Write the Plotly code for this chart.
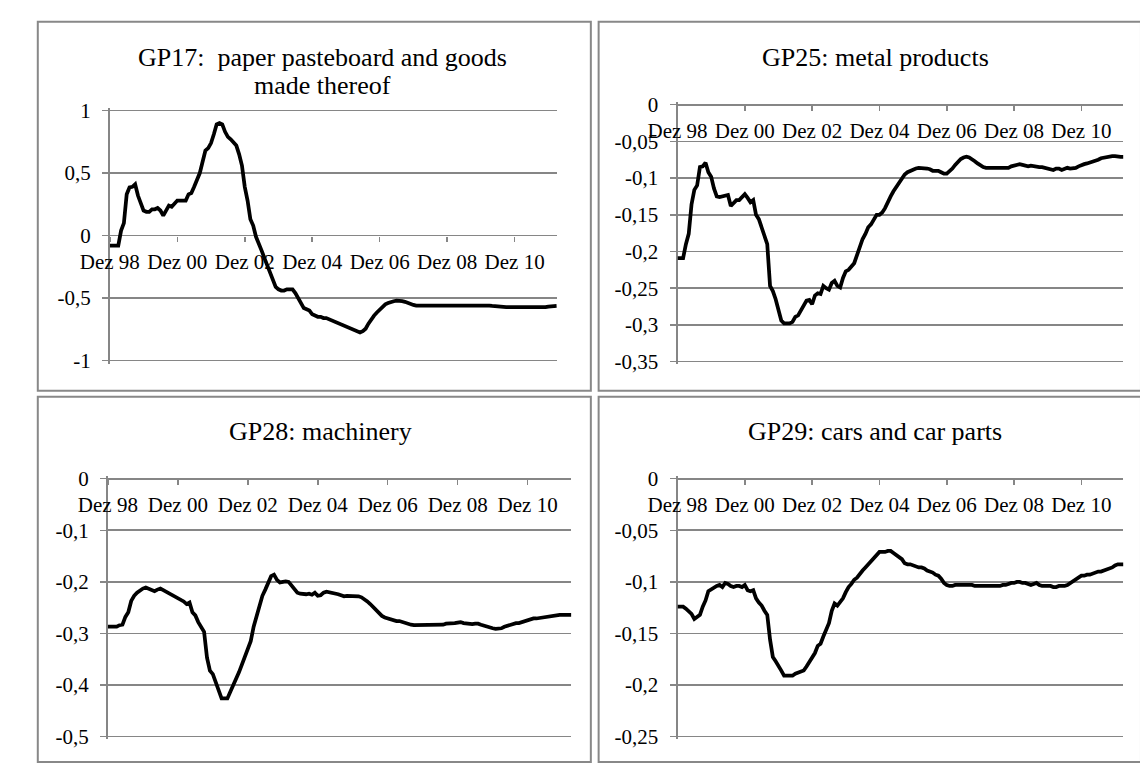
import plotly.graph_objects as go

W, H = 1140, 769

# ---------------- data ----------------
months = list(range(160))  # Dec 1998 ... Mar 2012
x_tick_vals = [0, 24, 48, 72, 96, 120, 144]
x_tick_text = ["Dez 98", "Dez 00", "Dez 02", "Dez 04", "Dez 06", "Dez 08", "Dez 10"]

gp17 = [
    -0.08, -0.08, -0.08, -0.08, 0.04, 0.10, 0.33, 0.385, 0.39, 0.41,
    0.32, 0.26, 0.20, 0.19, 0.19, 0.21, 0.21, 0.22, 0.20, 0.16,
    0.20, 0.24, 0.23, 0.25, 0.28, 0.28, 0.28, 0.28, 0.33, 0.34,
    0.39, 0.44, 0.50, 0.59, 0.68, 0.70, 0.74, 0.81, 0.89, 0.90,
    0.89, 0.83, 0.79, 0.77, 0.74, 0.72, 0.65, 0.56, 0.39, 0.28,
    0.13, 0.08, -0.01, -0.06, -0.12, -0.18, -0.24, -0.29, -0.36, -0.41,
    -0.43, -0.44, -0.44, -0.43, -0.43, -0.43, -0.46, -0.50, -0.53, -0.58,
    -0.59, -0.60, -0.63, -0.64, -0.65, -0.65, -0.66, -0.66, -0.67, -0.68,
    -0.69, -0.70, -0.71, -0.72, -0.73, -0.74, -0.75, -0.76, -0.77, -0.775,
    -0.765, -0.745, -0.705, -0.667, -0.64, -0.615, -0.59, -0.57, -0.55, -0.54,
    -0.53, -0.525, -0.52, -0.52, -0.525, -0.53, -0.54, -0.55, -0.555, -0.56,
    -0.56, -0.56, -0.56, -0.56, -0.56, -0.56, -0.56, -0.56, -0.56, -0.56,
    -0.558, -0.558, -0.558, -0.557, -0.557, -0.556, -0.556, -0.556, -0.555, -0.555,
    -0.555, -0.555, -0.555, -0.556, -0.558, -0.56, -0.563, -0.566, -0.568, -0.57,
    -0.572, -0.573, -0.572, -0.572, -0.572, -0.572, -0.573, -0.574, -0.575, -0.575,
    -0.576, -0.577, -0.577, -0.577, -0.576, -0.573, -0.568, -0.564, -0.562, -0.562,
]

gp25 = [
    -0.209, -0.209, -0.209, -0.19, -0.176, -0.136, -0.116, -0.11, -0.085, -0.084,
    -0.079, -0.092, -0.098, -0.114, -0.125, -0.126, -0.125, -0.123, -0.123, -0.138,
    -0.134, -0.13, -0.13, -0.125, -0.122, -0.127, -0.133, -0.13, -0.15, -0.156,
    -0.167, -0.176, -0.19, -0.247, -0.254, -0.265, -0.28, -0.294, -0.298, -0.298,
    -0.298, -0.296, -0.289, -0.287, -0.28, -0.274, -0.267, -0.266, -0.272, -0.26,
    -0.257, -0.258, -0.247, -0.25, -0.252, -0.243, -0.24, -0.247, -0.249, -0.236,
    -0.227, -0.225, -0.22, -0.216, -0.205, -0.192, -0.183, -0.176, -0.167, -0.163,
    -0.156, -0.15, -0.15, -0.147, -0.141, -0.132, -0.125, -0.118, -0.112, -0.105,
    -0.1, -0.095, -0.092, -0.09, -0.088, -0.087, -0.086, -0.086, -0.087, -0.087,
    -0.088, -0.09, -0.09, -0.09, -0.092, -0.094, -0.094, -0.091, -0.087, -0.082,
    -0.078, -0.074, -0.072, -0.071, -0.072, -0.074, -0.077, -0.08, -0.083, -0.085,
    -0.086, -0.086, -0.086, -0.086, -0.086, -0.086, -0.086, -0.086, -0.086, -0.084,
    -0.083, -0.082, -0.081, -0.082, -0.083, -0.084, -0.083, -0.084, -0.084, -0.085,
    -0.085, -0.086, -0.087, -0.088, -0.089, -0.087, -0.087, -0.089, -0.087, -0.086,
    -0.087, -0.087, -0.086, -0.084, -0.082, -0.081, -0.08, -0.079, -0.077, -0.076,
    -0.075, -0.073, -0.072, -0.071, -0.07, -0.07, -0.07, -0.071, -0.071, -0.071,
]

gp28 = [
    -0.287, -0.287, -0.287, -0.287, -0.284, -0.283, -0.268, -0.259, -0.237, -0.227,
    -0.221, -0.216, -0.213, -0.211, -0.213, -0.215, -0.218, -0.215, -0.213, -0.216,
    -0.219, -0.221, -0.226, -0.228, -0.23, -0.235, -0.238, -0.243, -0.24, -0.259,
    -0.265, -0.278, -0.287, -0.297, -0.347, -0.372, -0.379, -0.394, -0.413, -0.426,
    -0.426, -0.426, -0.413, -0.4, -0.391, -0.375, -0.36, -0.344, -0.331, -0.315,
    -0.287, -0.268, -0.252, -0.227, -0.215, -0.202, -0.189, -0.186, -0.196, -0.201,
    -0.2, -0.199, -0.2, -0.207, -0.215, -0.221, -0.223, -0.224, -0.224, -0.223,
    -0.225, -0.221, -0.227, -0.226, -0.221, -0.219, -0.22, -0.221, -0.222, -0.224,
    -0.226, -0.228, -0.227, -0.227, -0.227, -0.227, -0.228, -0.23, -0.233, -0.238,
    -0.243, -0.249, -0.254, -0.259, -0.266, -0.269, -0.271, -0.273, -0.274, -0.276,
    -0.276, -0.278, -0.279, -0.281, -0.283, -0.284, -0.284, -0.284, -0.284, -0.284,
    -0.284, -0.284, -0.284, -0.284, -0.284, -0.283, -0.281, -0.281, -0.28, -0.28,
    -0.279, -0.278, -0.28, -0.281, -0.281, -0.282, -0.281, -0.281, -0.283, -0.285,
    -0.287, -0.288, -0.29, -0.291, -0.291, -0.29, -0.287, -0.285, -0.284, -0.281,
    -0.28, -0.28, -0.278, -0.276, -0.274, -0.273, -0.271, -0.271, -0.27, -0.269,
    -0.268, -0.267, -0.266, -0.265, -0.264, -0.264, -0.264, -0.264, -0.264, -0.264,
]

gp29 = [
    -0.124, -0.124, -0.124, -0.126, -0.129, -0.131, -0.136, -0.134, -0.132, -0.124,
    -0.118, -0.109, -0.107, -0.105, -0.104, -0.103, -0.105, -0.101, -0.102, -0.104,
    -0.105, -0.104, -0.104, -0.105, -0.103, -0.108, -0.109, -0.108, -0.116, -0.12,
    -0.123, -0.128, -0.132, -0.156, -0.173, -0.177, -0.181, -0.186, -0.191, -0.191,
    -0.191, -0.191, -0.189, -0.188, -0.187, -0.186, -0.182, -0.178, -0.174, -0.169,
    -0.162, -0.16, -0.153, -0.147, -0.14, -0.128, -0.121, -0.123, -0.12, -0.116,
    -0.11, -0.105, -0.102, -0.098, -0.096, -0.092, -0.089, -0.086, -0.083, -0.08,
    -0.078, -0.075, -0.071, -0.071, -0.071, -0.07, -0.07, -0.072, -0.074, -0.076,
    -0.078, -0.082, -0.083, -0.083, -0.084, -0.085, -0.086, -0.086, -0.087, -0.089,
    -0.09, -0.091, -0.093, -0.094, -0.097, -0.101, -0.103, -0.104, -0.104, -0.103,
    -0.103, -0.103, -0.103, -0.103, -0.103, -0.103, -0.104, -0.104, -0.104, -0.104,
    -0.104, -0.104, -0.104, -0.104, -0.104, -0.104, -0.103, -0.103, -0.102, -0.101,
    -0.101, -0.1, -0.1, -0.101, -0.101, -0.102, -0.103, -0.102, -0.101, -0.103,
    -0.104, -0.104, -0.104, -0.104, -0.105, -0.105, -0.104, -0.104, -0.104, -0.103,
    -0.101, -0.099, -0.098, -0.096, -0.094, -0.094, -0.093, -0.093, -0.092, -0.091,
    -0.09, -0.09, -0.089, -0.088, -0.087, -0.086, -0.084, -0.083, -0.083, -0.083,
]

titles = [
    ["GP17:\u00a0 paper pasteboard and goods", "made thereof"],
    ["GP25: metal products"],
    ["GP28: machinery"],
    ["GP29: cars and car parts"],
]

y_ticks_gp17 = [1, 0.5, 0, -0.5, -1]
y_text_gp17 = ["1", "0,5", "0", "-0,5", "-1"]
y_ticks_gp25 = [0, -0.05, -0.1, -0.15, -0.2, -0.25, -0.3, -0.35]
y_text_gp25 = ["0", "-0,05", "-0,1", "-0,15", "-0,2", "-0,25", "-0,3", "-0,35"]
y_ticks_gp28 = [0, -0.1, -0.2, -0.3, -0.4, -0.5]
y_text_gp28 = ["0", "-0,1", "-0,2", "-0,3", "-0,4", "-0,5"]
y_ticks_gp29 = [0, -0.05, -0.1, -0.15, -0.2, -0.25]
y_text_gp29 = ["0", "-0,05", "-0,1", "-0,15", "-0,2", "-0,25"]

# ---------------- layout geometry (pixels) ----------------
FONT = "Liberation Serif, Times New Roman, serif"
GRID = "#868686"
PAD = 3  # px of padding so that the outermost gridlines are drawn

panels = [
    dict(series=gp17, yt=y_ticks_gp17, ytx=y_text_gp17, rng=[-1, 1],
         plot=(82, 541, 104, 360), box=(8, 576, 13, 391), title_xy=(300, 50)),
    dict(series=gp25, yt=y_ticks_gp25, ytx=y_text_gp25, rng=[-0.35, 0],
         plot=(665, 1123, 98, 361), box=(584, 1141, 13, 391), title_xy=(868, 50)),
    dict(series=gp28, yt=y_ticks_gp28, ytx=y_text_gp28, rng=[-0.5, 0],
         plot=(80, 556, 481, 745), box=(8, 576, 397, 771), title_xy=(298, 433)),
    dict(series=gp29, yt=y_ticks_gp29, ytx=y_text_gp29, rng=[-0.25, 0],
         plot=(665, 1123, 481, 745), box=(584, 1141, 397, 771), title_xy=(868, 433)),
]


def fx(px):
    return px / W


def fy(py):
    return 1 - py / H


fig = go.Figure()
layout = dict(
    width=W, height=H, margin=dict(l=0, r=0, t=0, b=0),
    paper_bgcolor="white", plot_bgcolor="white", showlegend=False,
    font=dict(family=FONT, color="black"),
)
shapes = []
annotations = []

for i, p in enumerate(panels):
    k = "" if i == 0 else str(i + 1)
    x0, x1, yt_px, yb_px = p["plot"]
    r0, r1 = p["rng"]
    per_px = (r1 - r0) / (yb_px - yt_px)
    ydom = [fy(yb_px + PAD), fy(yt_px - PAD)]
    yrng = [r0 - PAD * per_px, r1 + PAD * per_px]
    zero_pos = ydom[0] + (0 - yrng[0]) / (yrng[1] - yrng[0]) * (ydom[1] - ydom[0])

    fig.add_trace(go.Scatter(
        x=months, y=p["series"], mode="lines",
        line=dict(color="black", width=3.75),
        xaxis="x" + k, yaxis="y" + k, hoverinfo="skip",
    ))

    layout["xaxis" + k] = dict(
        domain=[fx(x0), fx(x1)], range=[0, len(months) - 1],
        anchor="free", position=zero_pos, side="bottom",
        tickmode="array", tickvals=x_tick_vals, ticktext=x_tick_text,
        ticks="outside", ticklen=5, tickwidth=1.5, tickcolor=GRID,
        showgrid=False, zeroline=False, showline=False,
        tickfont=dict(size=21, family=FONT, color="black"),
        ticklabelstandoff=2, layer="below traces", fixedrange=True,
    )
    layout["yaxis" + k] = dict(
        domain=ydom, range=yrng, anchor="x" + k,
        tickmode="array", tickvals=p["yt"], ticktext=p["ytx"],
        ticks="outside", ticklen=6, tickwidth=1.5, tickcolor=GRID,
        showgrid=True, gridcolor=GRID, gridwidth=1.75,
        zeroline=False, showline=True, linecolor=GRID, linewidth=2,
        tickfont=dict(size=21, family=FONT, color="black"),
        ticklabelstandoff=7, layer="below traces", fixedrange=True,
    )

    bx0, bx1, by0, by1 = p["box"]
    shapes.append(dict(type="rect", xref="paper", yref="paper",
                       x0=fx(bx0), x1=fx(bx1), y0=fy(by1), y1=fy(by0),
                       line=dict(color="#888888", width=2), layer="below"))

    tx, ty = p["title_xy"]
    for j, line in enumerate(titles[i]):
        annotations.append(dict(
            text=line, xref="paper", yref="paper",
            x=fx(tx), y=fy(ty + 28 * j), xanchor="center", yanchor="middle",
            showarrow=False, font=dict(size=26, family=FONT, color="black"),
        ))

layout["shapes"] = shapes
layout["annotations"] = annotations
fig.update_layout(**layout)

fig.write_html(
    "out.html",
    config={"displayModeBar": False, "staticPlot": True},
    post_script="document.body.style.margin='0';document.body.style.overflow='hidden';",
)
